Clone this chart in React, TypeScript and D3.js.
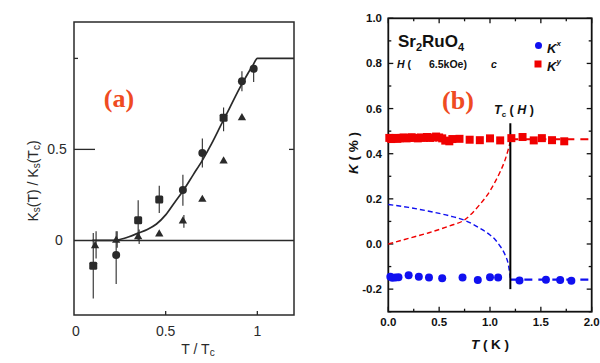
import React from "react";
import * as d3 from "d3";

// ---- panel (a): Ks(T)/Ks(Tc) vs T/Tc ----
const aCircleT = [0.23, 0.594, 0.7, 0.916, 0.98];
const aCircleV = [-0.08, 0.277, 0.48, 0.875, 0.943];
const aCircleLo = [-0.24, 0.19, 0.4, 0.82, 0.87];
const aCircleHi = [0.05, 0.36, 0.56, 0.93, 0.97];

const aSquareT = [0.105, 0.35, 0.465, 0.816];
const aSquareV = [-0.14, 0.11, 0.225, 0.674];
const aSquareLo = [-0.32, 0.0, 0.15, 0.6];
const aSquareHi = [0.04, 0.22, 0.3, 0.73];

const aTriT = [0.115, 0.23, 0.35, 0.465, 0.594, 0.7, 0.816, 0.916];
const aTriV = [-0.03, 0.0, 0.02, 0.035, 0.106, 0.225, 0.436, 0.674];
const aTriLo = [-0.1, -0.04, -0.02, 0.035, 0.07, 0.225, 0.436, 0.674];
const aTriHi = [0.05, 0.05, 0.06, 0.035, 0.14, 0.225, 0.436, 0.674];

const aCurveT = [0.1, 0.2, 0.25, 0.3, 0.35, 0.4, 0.45, 0.5, 0.55, 0.6, 0.65, 0.7, 0.75, 0.8, 0.85, 0.9, 0.95, 0.98, 1.0, 1.2];
const aCurveV = [0, 0, 0.005, 0.02, 0.04, 0.06, 0.09, 0.14, 0.21, 0.28, 0.36, 0.44, 0.53, 0.63, 0.73, 0.83, 0.92, 0.97, 1.0, 1.0];

const aXTicks = [0, 0.5, 1];
const aXLabels = ["0", "0.5", "1"];

// ---- panel (b): Sr2RuO4 K(%) vs T(K) ----
const redT = [0.01, 0.03, 0.05, 0.07, 0.09, 0.11, 0.13, 0.15, 0.18, 0.2, 0.23, 0.26, 0.29, 0.32, 0.35, 0.38, 0.41, 0.44, 0.47, 0.5, 0.53, 0.56, 0.6, 0.63, 0.7, 0.8, 0.9, 1.0, 1.1, 1.21, 1.32, 1.43, 1.51, 1.61, 1.73];
const redV = [0.47, 0.465, 0.468, 0.47, 0.466, 0.468, 0.47, 0.472, 0.468, 0.47, 0.473, 0.47, 0.468, 0.472, 0.47, 0.474, 0.47, 0.472, 0.476, 0.472, 0.468, 0.458, 0.455, 0.465, 0.466, 0.462, 0.46, 0.468, 0.459, 0.469, 0.474, 0.459, 0.469, 0.46, 0.455];

const blueT = [0.02, 0.04, 0.07, 0.1, 0.2, 0.3, 0.4, 0.53, 0.73, 0.88, 1.0, 1.08, 1.29, 1.55, 1.69, 1.8];
const blueV = [-0.145, -0.15, -0.148, -0.147, -0.138, -0.145, -0.148, -0.152, -0.148, -0.16, -0.147, -0.148, -0.162, -0.158, -0.16, -0.163];

const redCurveT = [0, 0.2, 0.4, 0.6, 0.75, 0.9, 1.0, 1.05, 1.1, 1.15, 1.18, 1.2];
const redCurveV = [0, 0.025, 0.05, 0.08, 0.107, 0.175, 0.235, 0.275, 0.32, 0.375, 0.42, 0.455];
const blueCurveT = [0, 0.2, 0.4, 0.6, 0.75, 0.9, 1.0, 1.05, 1.1, 1.15, 1.18, 1.2];
const blueCurveV = [0.175, 0.162, 0.145, 0.125, 0.105, 0.07, 0.04, 0.02, -0.01, -0.05, -0.09, -0.15];

const Tc = 1.2;
const redNormal = 0.464;
const blueNormal = -0.158;

const bYTicks = [1.0, 0.8, 0.6, 0.4, 0.2, 0.0, -0.2];
const bXTicks = [0, 0.5, 1.0, 1.5, 2.0];

const ax = d3.scaleLinear([0, 1.2], [74, 294]);
const ay = d3.scaleLinear([-0.41, 1.2], [315, 22]);
const bx = d3.scaleLinear([0, 2], [388.3, 591.7]);
const by = d3.scaleLinear([-0.3, 1.0], [311.7, 18.3]);

const ORANGE = "#ef4b22";
const RED = "#f00000";
const BLUE = "#1010f0";
const INK = "#2a2a2a";

export default function App() {
  const aLine = d3
    .line<number>()
    .x((d, i) => ax(aCurveT[i]))
    .y(d => ay(d))
    .curve(d3.curveMonotoneX);
  const redLine = d3
    .line<number>()
    .x((d, i) => bx(redCurveT[i]))
    .y(d => by(d))
    .curve(d3.curveMonotoneX);
  const blueLine = d3
    .line<number>()
    .x((d, i) => bx(blueCurveT[i]))
    .y(d => by(d))
    .curve(d3.curveMonotoneX);

  const tri = d3.symbol(d3.symbolTriangle, 30)();

  const minorY = d3.range(-0.3, 1.001, 0.1);
  const minorX = d3.range(0, 2.001, 0.25);

  return (
    <svg
      width={600}
      height={363}
      style={{ position: "absolute", left: 0, top: 0, background: "white" }}
    >
      {/* ---------- panel (a) ---------- */}
      <g fontFamily="Liberation Sans, Arial, sans-serif" fill={INK}>
        <rect x={ax(0)} y={ay(1.2)} width={ax(1.2) - ax(0)} height={ay(-0.41) - ay(1.2)}
          fill="none" stroke={INK} strokeWidth={1.5} />
        {/* zero line */}
        <line x1={ax(0)} x2={ax(1.2)} y1={ay(0)} y2={ay(0)} stroke={INK} strokeWidth={1.5} />
        {/* y ticks */}
        <line x1={ax(0)} x2={ax(0) + 21} y1={ay(0.5)} y2={ay(0.5)} stroke={INK} strokeWidth={1.3} />
        <line x1={ax(0)} x2={ax(0) + 4} y1={ay(1)} y2={ay(1)} stroke={INK} strokeWidth={1.3} />
        <line x1={ax(1.2) - 5} x2={ax(1.2)} y1={ay(0.5)} y2={ay(0.5)} stroke={INK} strokeWidth={1.3} />
        {aXTicks.slice(1).map(t => (
          <line key={t} x1={ax(t)} x2={ax(t)} y1={ay(-0.41)} y2={ay(-0.41) - 4} stroke={INK} strokeWidth={1.3} />
        ))}
        <text x={ax(0) - 15} y={ay(0)} fontSize={14} textAnchor="middle" dominantBaseline="central">0</text>
        <text x={ax(0) - 17} y={ay(0.5)} fontSize={14} textAnchor="middle" dominantBaseline="central">0.5</text>
        {aXTicks.map((t, i) => (
          <text key={t} x={ax(t) + (i === 0 ? 2 : 0)} y={331} fontSize={14} textAnchor="middle" dominantBaseline="central">
            {aXLabels[i]}
          </text>
        ))}
        <text x={198} y={349} fontSize={14} textAnchor="middle" dominantBaseline="central">
          T / T<tspan fontSize={10} dy={3}>c</tspan>
        </text>
        <text transform="translate(33,181) rotate(-90)" fontSize={14} textAnchor="middle" dominantBaseline="central">
          K<tspan fontSize={10} dy={3}>s</tspan><tspan dy={-3}>(T) / K</tspan>
          <tspan fontSize={10} dy={3}>s</tspan><tspan dy={-3}>(T</tspan>
          <tspan fontSize={10} dy={3}>c</tspan><tspan dy={-3}>)</tspan>
        </text>

        {/* fit curve */}
        <path d={aLine(aCurveV) || ""} fill="none" stroke={INK} strokeWidth={1.7} />

        {/* error bars */}
        {aCircleT.map((t, i) => (
          <line key={"ce" + i} x1={ax(t)} x2={ax(t)} y1={ay(aCircleLo[i])} y2={ay(aCircleHi[i])} stroke={INK} strokeWidth={1.1} />
        ))}
        {aSquareT.map((t, i) => (
          <line key={"se" + i} x1={ax(t)} x2={ax(t)} y1={ay(aSquareLo[i])} y2={ay(aSquareHi[i])} stroke={INK} strokeWidth={1.1} />
        ))}
        {aTriT.map((t, i) => (
          <line key={"te" + i} x1={ax(t) + 1} x2={ax(t) + 1} y1={ay(aTriLo[i])} y2={ay(aTriHi[i])} stroke={INK} strokeWidth={1.1} />
        ))}
        {aCircleT.map((t, i) => (
          <circle key={"c" + i} cx={ax(t)} cy={ay(aCircleV[i])} r={4} fill={INK} />
        ))}
        {aSquareT.map((t, i) => (
          <rect key={"s" + i} x={ax(t) - 4} y={ay(aSquareV[i]) - 4} width={8} height={8} rx={1.5} fill={INK} />
        ))}
        {aTriT.map((t, i) => (
          <path key={"t" + i} d={tri || ""} transform={`translate(${ax(t)},${ay(aTriV[i])})`} fill={INK} />
        ))}

        <text x={119} y={98} fontSize={26} fontWeight="bold" fontFamily="Liberation Serif, serif"
          fill={ORANGE} textAnchor="middle" dominantBaseline="central">(a)</text>
      </g>

      {/* ---------- panel (b) ---------- */}
      <g fontFamily="Liberation Sans, Arial, sans-serif" fill="#111">
        <rect x={bx(0)} y={by(1.0)} width={bx(2) - bx(0)} height={by(-0.3) - by(1.0)}
          fill="none" stroke="#111" strokeWidth={1.8} />
        {minorY.map((v, i) => {
          const major = i % 2 === 1;
          const len = major ? 5 : 3;
          return (
            <g key={"yt" + i}>
              <line x1={bx(0)} x2={bx(0) + len} y1={by(v)} y2={by(v)} stroke="#111" strokeWidth={1.3} />
              <line x1={bx(2)} x2={bx(2) - len} y1={by(v)} y2={by(v)} stroke="#111" strokeWidth={1.3} />
            </g>
          );
        })}
        {minorX.map((t, i) => {
          const len = i % 2 === 0 ? 5 : 3;
          return (
            <g key={"xt" + i}>
              <line x1={bx(t)} x2={bx(t)} y1={by(-0.3)} y2={by(-0.3) - len} stroke="#111" strokeWidth={1.3} />
              <line x1={bx(t)} x2={bx(t)} y1={by(1)} y2={by(1) + len} stroke="#111" strokeWidth={1.3} />
            </g>
          );
        })}
        {bYTicks.map(v => (
          <text key={v} x={382} y={by(v)} fontSize={11.5} fontWeight="bold" textAnchor="end" dominantBaseline="central">
            {v.toFixed(1)}
          </text>
        ))}
        {bXTicks.map(t => (
          <text key={t} x={bx(t)} y={322} fontSize={11.5} fontWeight="bold" textAnchor="middle" dominantBaseline="central">
            {t.toFixed(1)}
          </text>
        ))}
        <text x={490} y={344} fontSize={13.5} fontWeight="bold" textAnchor="middle" dominantBaseline="central">
          <tspan fontStyle="italic">T</tspan> ( K )
        </text>
        <text transform="translate(353,153) rotate(-90)" fontSize={13.5} fontWeight="bold" textAnchor="middle" dominantBaseline="central">
          <tspan fontStyle="italic">K</tspan> ( % )
        </text>

        {/* dashed model curves */}
        <path d={redLine(redCurveV) || ""} fill="none" stroke={RED} strokeWidth={1.4} strokeDasharray="5 3" />
        <path d={blueLine(blueCurveV) || ""} fill="none" stroke={BLUE} strokeWidth={1.4} strokeDasharray="5 3" />
        <line x1={bx(Tc)} x2={bx(2)} y1={by(redNormal)} y2={by(redNormal)} stroke={RED} strokeWidth={2.2} strokeDasharray="8 6" />
        <line x1={bx(Tc)} x2={bx(2)} y1={by(blueNormal)} y2={by(blueNormal)} stroke={BLUE} strokeWidth={2.2} strokeDasharray="8 6" />

        {/* Tc(H) */}
        <line x1={bx(Tc)} x2={bx(Tc)} y1={by(0.535)} y2={by(-0.2)} stroke="#000" strokeWidth={2} />
        <text x={494} y={110} fontSize={12.5} fontWeight="bold" dominantBaseline="central">
          <tspan fontStyle="italic">T</tspan>
          <tspan fontSize={8} dy={4}>c</tspan>
          <tspan dy={-4}> ( </tspan>
          <tspan fontStyle="italic">H</tspan>
          <tspan> )</tspan>
        </text>

        {redT.map((t, i) => (
          <rect key={"r" + i} x={bx(t) - 4} y={by(redV[i]) - 4} width={8} height={8} fill={RED} />
        ))}
        {blueT.map((t, i) => (
          <circle key={"b" + i} cx={bx(t)} cy={by(blueV[i])} r={4} fill={BLUE} />
        ))}

        {/* header text */}
        <text x={398} y={47} fontSize={17} fontWeight="bold">
          Sr<tspan fontSize={11} dy={4}>2</tspan><tspan dy={-4}>RuO</tspan><tspan fontSize={11} dy={4}>4</tspan>
        </text>
        <text x={397} y={64} fontSize={10.5} fontWeight="bold" dominantBaseline="central">
          <tspan fontStyle="italic">H</tspan> (
        </text>
        <text x={429} y={64} fontSize={10.5} fontWeight="bold" dominantBaseline="central">6.5kOe)</text>
        <text x={491} y={64} fontSize={10.5} fontWeight="bold" fontStyle="italic" dominantBaseline="central">c</text>

        {/* legend */}
        <circle cx={538.5} cy={45.5} r={3.5} fill={BLUE} />
        <rect x={534.5} y={60.5} width={7} height={7} fill={RED} />
        <text x={547} y={48} fontSize={13} fontWeight="bold" fontStyle="italic" dominantBaseline="central">
          K<tspan fontSize={8} dy={-5}>x</tspan>
        </text>
        <text x={547} y={66} fontSize={13} fontWeight="bold" fontStyle="italic" dominantBaseline="central">
          K<tspan fontSize={8} dy={-5}>y</tspan>
        </text>

        <text x={458} y={100} fontSize={26} fontWeight="bold" fontFamily="Liberation Serif, serif"
          fill={ORANGE} textAnchor="middle" dominantBaseline="central">(b)</text>
      </g>
    </svg>
  );
}
